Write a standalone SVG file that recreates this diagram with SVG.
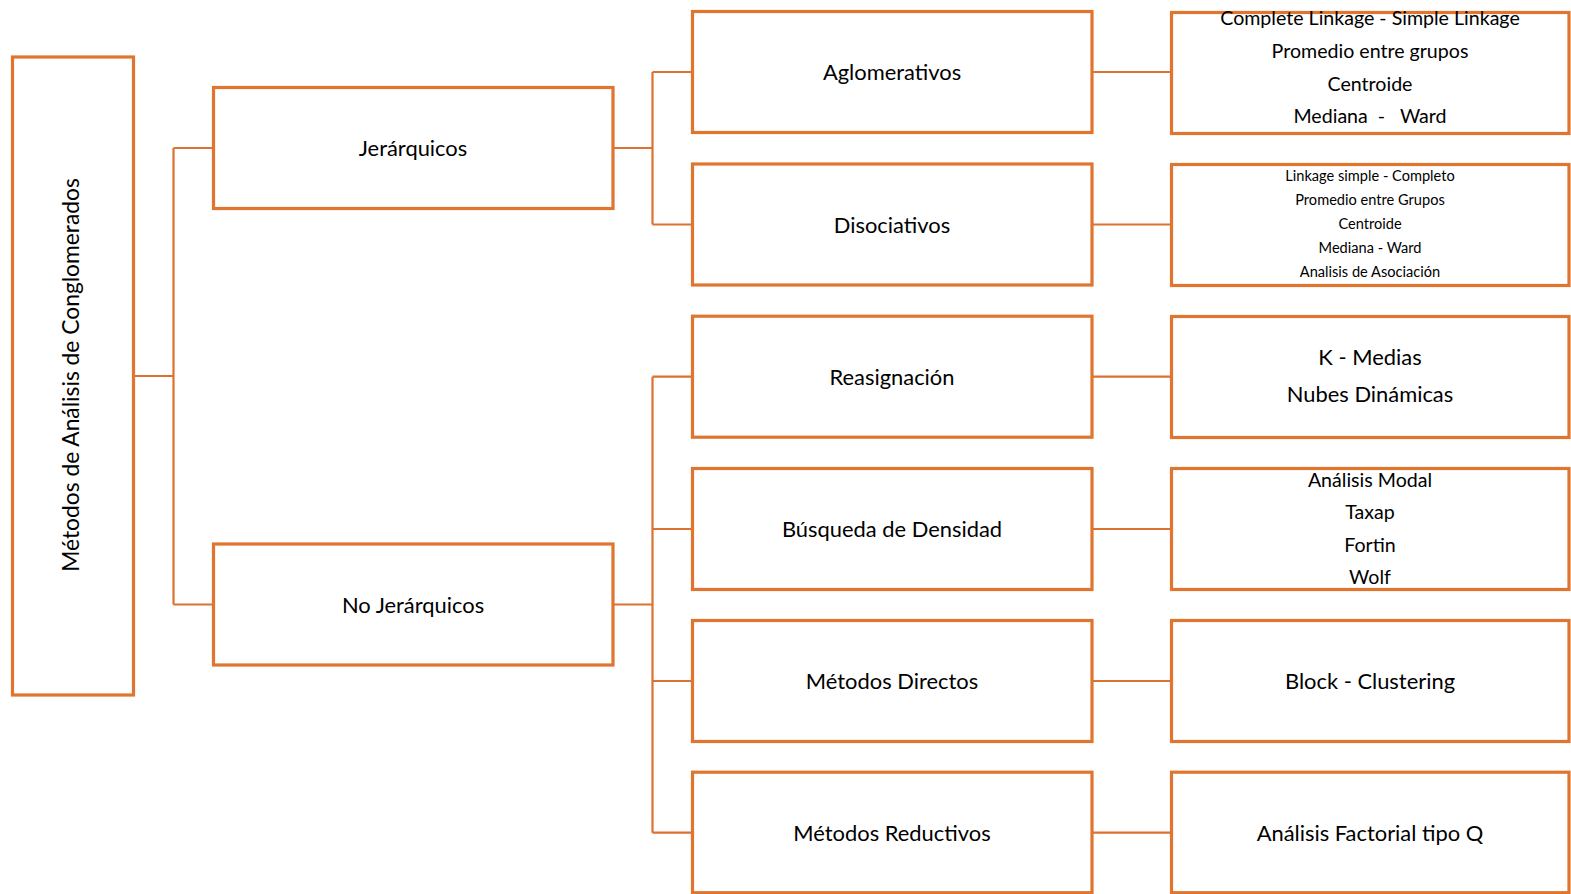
<svg xmlns="http://www.w3.org/2000/svg" width="1571" height="894" viewBox="0 0 1571 894">
<style>
.box{fill:#fff;stroke:#E0752F;stroke-width:3.2}
.con{fill:none;stroke:#DC7230;stroke-width:2.2}
text{font-family:Lato,"Open Sans","Liberation Sans",sans-serif;fill:#000;text-anchor:middle}
.r{font-size:22.8px}
.m{font-size:21.9px}
.s{font-size:19.6px}
.xs{font-size:14.6px}
</style>
<rect width="1571" height="894" fill="#fff"/>
<g id="connectors">
<path class="con" d="M133.5 376H173.5M173.5 148V604.5M173.5 148H213.5M173.5 604.5H213.5"/>
<path class="con" d="M613 148H652.5M652.5 72V224.5M652.5 72H692.5M652.5 224.5H692.5"/>
<path class="con" d="M613 604.5H652.5M652.5 376.7V832.7M652.5 376.7H692.5M652.5 529H692.5M652.5 681H692.5M652.5 832.7H692.5"/>
<path class="con" d="M1092 72H1171.5M1092 224.5H1171.5M1092 376.7H1171.5M1092 529H1171.5M1092 681H1171.5M1092 832.7H1171.5"/>
</g>
<g id="n-root">
<rect class="box" x="12.5" y="57" width="121" height="638"/>
<text class="r" transform="translate(79,375) rotate(-90)">Métodos de Análisis de Conglomerados</text>
</g>
<g id="n-jer">
<rect class="box" x="213.5" y="87.5" width="399.5" height="121"/>
<text class="m" x="413" y="156">Jerárquicos</text>
</g>
<g id="n-nojer">
<rect class="box" x="213.5" y="544" width="399.5" height="121"/>
<text class="m" x="413" y="612.5">No Jerárquicos</text>
</g>
<g id="n-aglo">
<rect class="box" x="692.5" y="11.5" width="399.5" height="121"/>
<text class="m" x="892" y="80">Aglomerativos</text>
</g>
<g id="n-diso">
<rect class="box" x="692.5" y="164" width="399.5" height="121"/>
<text class="m" x="892" y="232.5">Disociativos</text>
</g>
<g id="n-reas">
<rect class="box" x="692.5" y="316.2" width="399.5" height="121"/>
<text class="m" x="892" y="384.7">Reasignación</text>
</g>
<g id="n-busq">
<rect class="box" x="692.5" y="468.5" width="399.5" height="121"/>
<text class="m" x="892" y="537">Búsqueda de Densidad</text>
</g>
<g id="n-dir">
<rect class="box" x="692.5" y="620.5" width="399.5" height="121"/>
<text class="m" x="892" y="689">Métodos Directos</text>
</g>
<g id="n-red">
<rect class="box" x="692.5" y="772.2" width="399.5" height="120.5"/>
<text class="m" x="892" y="840.7">Métodos Reductivos</text>
</g>
<g id="n-aglo-list">
<rect class="box" x="1171.5" y="12.5" width="397.5" height="121"/>
<text class="s" x="1370" y="25">Complete Linkage - Simple Linkage</text>
<text class="s" x="1370" y="58">Promedio entre grupos</text>
<text class="s" x="1370" y="90.5">Centroide</text>
<text class="s" x="1370" y="123" xml:space="preserve">Mediana  -   Ward</text>
</g>
<g id="n-diso-list">
<rect class="box" x="1171.5" y="164.5" width="397.5" height="121"/>
<text class="xs" x="1370" y="180.5">Linkage simple - Completo</text>
<text class="xs" x="1370" y="205">Promedio entre Grupos</text>
<text class="xs" x="1370" y="229">Centroide</text>
<text class="xs" x="1370" y="253">Mediana - Ward</text>
<text class="xs" x="1370" y="277">Analisis de Asociación</text>
</g>
<g id="n-reas-list">
<rect class="box" x="1171.5" y="316.5" width="397.5" height="121"/>
<text class="m" x="1370" y="365">K - Medias</text>
<text class="m" x="1370" y="401.5">Nubes Dinámicas</text>
</g>
<g id="n-busq-list">
<rect class="box" x="1171.5" y="468.5" width="397.5" height="121"/>
<text class="s" x="1370" y="486.5">Análisis Modal</text>
<text class="s" x="1370" y="519">Taxap</text>
<text class="s" x="1370" y="551.5">Fortin</text>
<text class="s" x="1370" y="584">Wolf</text>
</g>
<g id="n-dir-list">
<rect class="box" x="1171.5" y="620.5" width="397.5" height="121"/>
<text class="m" x="1370" y="689">Block - Clustering</text>
</g>
<g id="n-red-list">
<rect class="box" x="1171.5" y="772.2" width="397.5" height="120.5"/>
<text class="m" x="1370" y="840.7">Análisis Factorial tipo Q</text>
</g>
</svg>
